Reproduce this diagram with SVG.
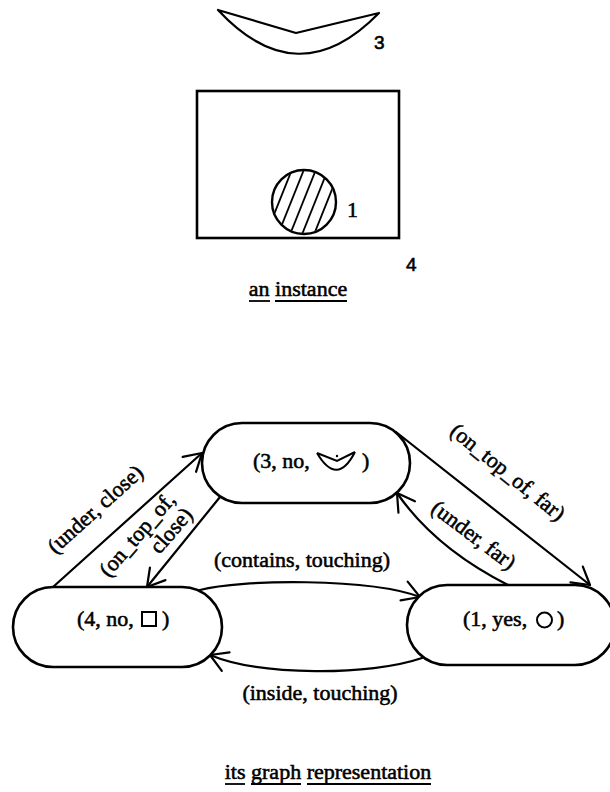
<svg xmlns="http://www.w3.org/2000/svg" width="610" height="792" viewBox="0 0 610 792">
  <style>
    .ln { fill: none; stroke: #000; stroke-width: 2.2; stroke-linecap: round; stroke-linejoin: round; }
    .node { fill: #fff; stroke: #000; stroke-width: 2.6; }
    .sym { fill: none; stroke: #000; stroke-width: 2; }
    .t { font-family: "Liberation Serif", "Times New Roman", serif; font-size: 22px; fill: #000; stroke: #000; stroke-width: 0.55; }
    .num { font-family: "Liberation Sans", Arial, sans-serif; font-size: 19px; fill: #000; stroke: #000; stroke-width: 0.6; }
    .ul { stroke: #000; stroke-width: 1.8; }
  </style>
  <defs>
    <marker id="arrow" markerUnits="userSpaceOnUse" markerWidth="40" markerHeight="40" refX="0" refY="0" orient="auto" overflow="visible">
      <path d="M-17,-10 L0,0 L-17,10" fill="none" stroke="#000" stroke-width="2.2" stroke-linecap="round" stroke-linejoin="round"/>
    </marker>
    <clipPath id="discClip">
      <circle cx="304" cy="202" r="31"/>
    </clipPath>
  </defs>

  <!-- instance scene -->
  <g id="scene">
    <!-- object 3: crescent -->
    <path class="ln" d="M218,10 L296,33 L379,13 M218,10 Q298,96 379,13"/>
    <text class="num" x="374" y="49">3</text>
    <!-- object 4: box -->
    <rect x="197" y="91" width="202" height="147" fill="none" stroke="#000" stroke-width="2.6"/>
    <text class="num" x="406" y="271">4</text>
    <!-- object 1: hatched disc -->
    <g clip-path="url(#discClip)" stroke="#000" stroke-width="1.8">
      <line x1="239" y1="302" x2="319" y2="102"/>
      <line x1="251" y1="302" x2="331" y2="102"/>
      <line x1="263" y1="302" x2="343" y2="102"/>
      <line x1="275" y1="302" x2="355" y2="102"/>
      <line x1="287" y1="302" x2="367" y2="102"/>
    </g>
    <circle cx="304" cy="202" r="32" fill="none" stroke="#000" stroke-width="2.4"/>
    <text class="t" x="347" y="217" font-size="18">1</text>
    <!-- caption -->
    <text class="t" x="298" y="296" text-anchor="middle">an instance</text>
    <line class="ul" x1="249" y1="301" x2="270" y2="301"/>
    <line class="ul" x1="275" y1="301" x2="347" y2="301"/>
  </g>

  <!-- graph connectors -->
  <g id="edges">
    <path class="ln" d="M53,587 L202,453" marker-end="url(#arrow)"/>
    <path class="ln" d="M220,497 L147,587" marker-end="url(#arrow)"/>
    <path class="ln" d="M396,432 L590,585" marker-end="url(#arrow)"/>
    <path class="ln" d="M508,585 Q435,548 397,493" marker-end="url(#arrow)"/>
    <path class="ln" d="M200,590 C240,579 370,578 420,597" marker-end="url(#arrow)"/>
    <path class="ln" d="M422,658 C370,676 260,676 210,655" marker-end="url(#arrow)"/>

    <text class="t" transform="translate(96,510) rotate(-42)" text-anchor="middle" y="6">(under, close)</text>
    <g transform="translate(156,533) rotate(-49)">
      <text class="t" x="38" y="-6" text-anchor="end">(on_top_of,</text>
      <text class="t" x="38" y="17" text-anchor="end">close)</text>
    </g>
    <text class="t" transform="translate(507,473) rotate(39)" text-anchor="middle" y="6">(on_top_of, far)</text>
    <text class="t" transform="translate(473,536) rotate(37)" text-anchor="middle" y="6">(under, far)</text>
    <text class="t" x="302" y="567" text-anchor="middle">(contains, touching)</text>
    <text class="t" x="320" y="700" text-anchor="middle">(inside, touching)</text>
  </g>

  <!-- node 3 -->
  <g id="node3">
    <rect class="node" x="202" y="423" width="208" height="80" rx="40" ry="40"/>
    <text class="t" x="253" y="468">(3, no,</text>
    <path class="sym" d="M317,453 L337,461 L355,452 M317,453 Q337,487 355,452"/>
    <circle cx="337" cy="456" r="1.2" fill="#000"/>
    <text class="t" x="362" y="468">)</text>
  </g>

  <!-- node 4 -->
  <g id="node4">
    <rect class="node" x="13" y="587" width="209" height="80" rx="40" ry="40"/>
    <text class="t" x="77" y="626">(4, no,</text>
    <rect class="sym" x="142" y="612" width="14" height="14"/>
    <text class="t" x="162" y="626">)</text>
  </g>

  <!-- node 1 -->
  <g id="node1">
    <rect class="node" x="407" y="585" width="208" height="80" rx="40" ry="40"/>
    <text class="t" x="463" y="626">(1, yes,</text>
    <circle class="sym" cx="544.5" cy="620" r="7.5"/>
    <text class="t" x="557" y="626">)</text>
  </g>

  <!-- graph caption -->
  <g id="caption">
    <text class="t" x="328" y="779" text-anchor="middle">its graph representation</text>
    <line class="ul" x1="225" y1="784" x2="245" y2="784"/>
    <line class="ul" x1="251" y1="784" x2="301" y2="784"/>
    <line class="ul" x1="307" y1="784" x2="431" y2="784"/>
  </g>
</svg>
